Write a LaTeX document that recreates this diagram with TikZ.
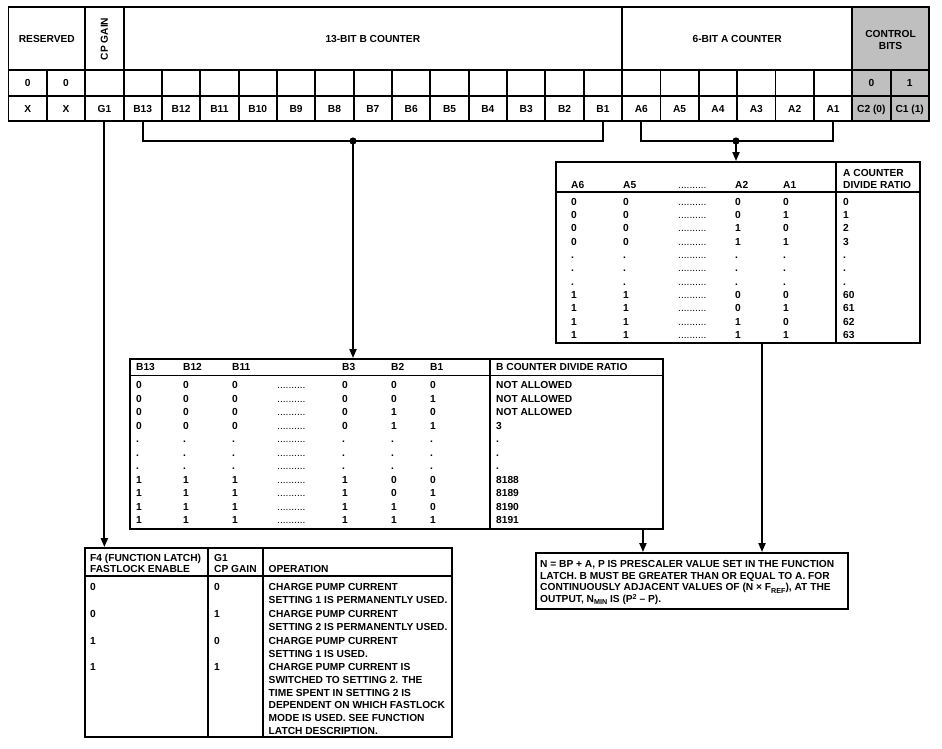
\documentclass[tikz,border=0pt]{standalone}
\usepackage{fontspec}
\setmainfont{Liberation Sans}
\usetikzlibrary{arrows.meta}
\newcommand\myleader{{\mdseries ..........}}
\newcommand\subx[1]{\raisebox{-2.3pt}{\fontsize{7.2}{8}\selectfont #1}}
\newcommand\supx[1]{\raisebox{3.4pt}{\fontsize{7.2}{8}\selectfont #1}}
\begin{document}
\begin{tikzpicture}[x=1pt,y=-1pt,
  every node/.style={font=\fontsize{10.2}{12}\selectfont\bfseries},
  ln/.style={line width=1.9pt},
  cell/.style={draw, line width=1.9pt, inner sep=0pt, minimum width=38.35pt, text height=7.2pt, text depth=0pt},
  gcell/.style={cell, fill=black!25},
  txt/.style={anchor=west, inner sep=0pt, text height=7.2pt, text depth=0pt},
  box/.style={draw, line width=1.9pt, inner sep=0pt},
  arr/.style={line width=1.9pt, -{Triangle[length=9pt,width=7pt]}}
]
\useasboundingbox (0,0) rectangle (942,748);

% ---------------- register ----------------
\node[cell, minimum width=76.7pt, minimum height=63pt] (hres) at (46.85,38.5) {RESERVED};
\node[cell, minimum height=63pt] (hcp) at (104.375,38.5) {};
\node[rotate=90, inner sep=0pt] (hcpt) at (104.375,39) {CP GAIN};
\node[cell, minimum width=498.55pt, minimum height=63pt] (hb) at (372.825,38.5) {13-BIT B COUNTER};
\node[cell, minimum width=230.1pt, minimum height=63pt] (ha) at (737.15,38.5) {6-BIT A COUNTER};
\node[gcell, minimum width=76.7pt, minimum height=63pt] (hc) at (890.55,38.5) {};
\node[txt, anchor=center] (hct1) at (890.55,34) {CONTROL};
\node[txt, anchor=center] (hct2) at (890.55,45.7) {BITS};

\node[cell, minimum height=26pt] (r0) at (27.675,83) {0};
\node[cell, minimum height=26pt] (r1) at (66.025,83) {0};
\foreach \i in {2,...,21} {
  \pgfmathsetmacro\cx{8.5+38.35*(\i+0.5)}
  \node[cell, minimum height=26pt] (r\i) at (\cx,83) {};
}
\node[gcell, minimum height=26pt] (r22) at (871.375,83) {0};
\node[gcell, minimum height=26pt] (r23) at (909.725,83) {1};

\foreach \t [count=\i from 0] in {X,X,G1,B13,B12,B11,B10,B9,B8,B7,B6,B5,B4,B3,B2,B1,A6,A5,A4,A3,A2,A1} {
  \pgfmathsetmacro\cx{8.5+38.35*(\i+0.5)}
  \node[cell, minimum height=25pt] (c\i) at (\cx,108.5) {\t};
}
\node[gcell, minimum height=25pt] (c22) at (871.375,108.5) {C2 (0)};
\node[gcell, minimum height=25pt] (c23) at (909.725,108.5) {C1 (1)};

% ---------------- A counter table ----------------
\node[box, minimum width=364pt, minimum height=181pt] (tabA) at (738,252.5) {};
\draw[ln] (556,191.7) -- (920,191.7);
\draw[ln] (835.7,162) -- (835.7,343);
\node[txt] (ah1) at (571,185) {A6};
\node[txt] (ah2) at (623,185) {A5};
\node[txt] (ah3) at (678,185) {\myleader};
\node[txt] (ah4) at (735,185) {A2};
\node[txt] (ah5) at (783,185) {A1};
\node[txt] (ah6) at (843,173.3) {A COUNTER};
\node[txt] (ah7) at (843,185) {DIVIDE RATIO};
\foreach \p/\q/\r/\s/\t [count=\k from 0] in {0/0/0/0/0, 0/0/0/1/1, 0/0/1/0/2, 0/0/1/1/3, ././././., ././././., ././././., 1/1/0/0/60, 1/1/0/1/61, 1/1/1/0/62, 1/1/1/1/63} {
  \pgfmathsetmacro\yy{201.7+13.3*\k}
  \node[txt] (a\k-1) at (571,\yy) {\p};
  \node[txt] (a\k-2) at (623,\yy) {\q};
  \node[txt] (a\k-3) at (678,\yy) {\myleader};
  \node[txt] (a\k-4) at (735,\yy) {\r};
  \node[txt] (a\k-5) at (783,\yy) {\s};
  \node[txt] (a\k-6) at (843,\yy) {\t};
}

% ---------------- B counter table ----------------
\node[box, minimum width=533pt, minimum height=170pt] (tabB) at (396.5,444) {};
\draw[ln] (130,375.5) -- (663,375.5);
\draw[ln] (490,359) -- (490,529);
\node[txt] (bh1) at (136,367) {B13};
\node[txt] (bh2) at (183,367) {B12};
\node[txt] (bh3) at (232,367) {B11};
\node[txt] (bh4) at (342,367) {B3};
\node[txt] (bh5) at (391,367) {B2};
\node[txt] (bh6) at (430,367) {B1};
\node[txt] (bh7) at (496,367) {B COUNTER DIVIDE RATIO};
\foreach \p/\q/\r/\s/\u/\v/\t [count=\k from 0] in {0/0/0/0/0/0/NOT ALLOWED, 0/0/0/0/0/1/NOT ALLOWED, 0/0/0/0/1/0/NOT ALLOWED, 0/0/0/0/1/1/3, ./././././././., ./././././././., ./././././././., 1/1/1/1/0/0/8188, 1/1/1/1/0/1/8189, 1/1/1/1/1/0/8190, 1/1/1/1/1/1/8191} {
  \pgfmathsetmacro\yy{385+13.5*\k}
  \node[txt] (b\k-1) at (136,\yy) {\p};
  \node[txt] (b\k-2) at (183,\yy) {\q};
  \node[txt] (b\k-3) at (232,\yy) {\r};
  \node[txt] (b\k-4) at (277,\yy) {\myleader};
  \node[txt] (b\k-5) at (342,\yy) {\s};
  \node[txt] (b\k-6) at (391,\yy) {\u};
  \node[txt] (b\k-7) at (430,\yy) {\v};
  \node[txt] (b\k-8) at (496,\yy) {\t};
}

% ---------------- operation table ----------------
\node[box, minimum width=367pt, minimum height=189pt] (tabO) at (268.5,642.5) {};
\draw[ln] (85,576) -- (452,576);
\draw[ln] (208,548) -- (208,737);
\draw[ln] (263,548) -- (263,737);
\node[txt] (oh1) at (90,557.5) {F4 (FUNCTION LATCH)};
\node[txt] (oh2) at (90,569) {FASTLOCK ENABLE};
\node[txt] (oh3) at (214,557.5) {G1};
\node[txt] (oh4) at (214,569) {CP GAIN};
\node[txt] (oh5) at (268.5,569) {OPERATION};
\foreach \f/\g/\yy [count=\k] in {0/0/587, 0/1/614, 1/0/641, 1/1/667} {
  \node[txt] (of\k) at (90,\yy) {\f};
  \node[txt] (og\k) at (214,\yy) {\g};
}
\foreach \t [count=\i from 0] in {CHARGE PUMP CURRENT, SETTING 1 IS PERMANENTLY USED.}
  {\node[txt] (o1-\i) at (268.5,587+13.2*\i) {\t};}
\foreach \t [count=\i from 0] in {CHARGE PUMP CURRENT, SETTING 2 IS PERMANENTLY USED.}
  {\node[txt] (o2-\i) at (268.5,614+13.2*\i) {\t};}
\foreach \t [count=\i from 0] in {CHARGE PUMP CURRENT, SETTING 1 IS USED.}
  {\node[txt] (o3-\i) at (268.5,641+13.2*\i) {\t};}
\foreach \t [count=\i from 0] in {CHARGE PUMP CURRENT IS, SWITCHED TO SETTING 2. THE, TIME SPENT IN SETTING 2 IS, DEPENDENT ON WHICH FASTLOCK, MODE IS USED. SEE FUNCTION, LATCH DESCRIPTION.}
  {\node[txt] (o4-\i) at (268.5,667+12.7*\i) {\t};}

% ---------------- N box ----------------
\node[box, minimum width=312pt, minimum height=56pt] (nbox) at (692,581) {};
\node[txt] (n1) at (540,564) {N = BP + A, P IS PRESCALER VALUE SET IN THE FUNCTION};
\node[txt] (n2) at (540,575.6) {LATCH. B MUST BE GREATER THAN OR EQUAL TO A. FOR};
\node[txt] (n3) at (540,587.2) {CONTINUOUSLY ADJACENT VALUES OF (N × F\subx{REF}), AT THE};
\node[txt] (n4) at (540,598.8) {OUTPUT, N\subx{MIN} IS (P\supx{2} – P).};

% ---------------- connectors ----------------
\coordinate (bj) at (353,141);
\draw[ln] (c3.south) |- (bj) -| (c15.south);
\fill (bj) circle[radius=3.6pt];
\draw[arr] (bj) -- (bj |- tabB.north);

\coordinate (aj) at (736,141);
\draw[ln] (c16.south) |- (aj) -| (c21.south);
\fill (aj) circle[radius=3.6pt];
\draw[arr] (aj) -- (aj |- tabA.north);

\draw[arr] (c2.south) -- (c2.south |- tabO.north);

\coordinate (bo) at ([xshift=-21pt]tabB.south east);
\draw[arr] (bo) -- (bo |- nbox.north);
\coordinate (ao) at ([xshift=24pt]tabA.south);
\draw[arr] (ao) -- (ao |- nbox.north);
\end{tikzpicture}
\end{document}
